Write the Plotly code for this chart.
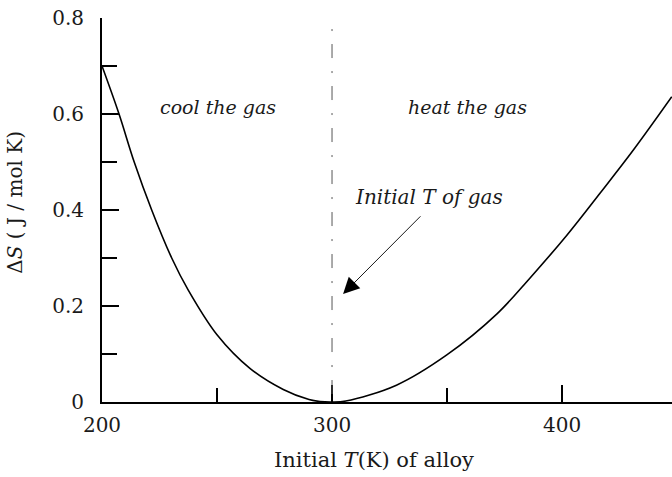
import plotly.graph_objects as go

# Entropy change vs. initial alloy temperature (gas initially at 300 K)
alloy_T = [200, 207.4, 214, 221.6, 230.3, 237.5, 250, 264.3, 278.8, 290, 294.8, 300,
           306, 328, 349.9, 371.6, 386, 402, 416.5, 431, 447.7]
delta_S = [0.700, 0.600, 0.500, 0.400, 0.300, 0.233, 0.140, 0.070, 0.026, 0.005, 0.001, 0.000,
           0.002, 0.035, 0.098, 0.183, 0.258, 0.347, 0.435, 0.525, 0.636]

gas_T = 300
x_ticks = [200, 300, 400]
y_ticks = [0, 0.2, 0.4, 0.6, 0.8]
y_tick_text = ["0", "0.2", "0.4", "0.6", "0.8"]

serif = "DejaVu Serif"
ink = "#1a1a1a"

fig = go.Figure()
fig.add_trace(go.Scatter(
    x=alloy_T, y=delta_S, mode="lines",
    line=dict(color="black", width=1.6, shape="spline", smoothing=1.0),
    hoverinfo="skip", showlegend=False,
))

# Vertical dash-dot marker at the gas temperature
fig.add_shape(type="line", xref="x", yref="y",
              x0=gas_T, x1=gas_T, y0=0.777, y1=0,
              line=dict(color="#555555", width=1, dash="2px,13px,14px,13px"))

fig.add_annotation(x=gas_T + 4.8, y=0.225, ax=339.1, ay=0.390,
                   xref="x", yref="y", axref="x", ayref="y",
                   showarrow=True, arrowhead=2, arrowsize=3.6, arrowwidth=0.9,
                   arrowcolor="black", text="")

italic = dict(family=serif, size=19, color=ink)
fig.add_annotation(x=250.3, y=0.614, xref="x", yref="y", showarrow=False,
                   text="<i>cool the gas</i>", font=italic)
fig.add_annotation(x=359, y=0.614, xref="x", yref="y", showarrow=False,
                   text="<i>heat the gas</i>", font=italic)
fig.add_annotation(x=342, y=0.427, xref="x", yref="y", showarrow=False,
                   text="<i>Initial T of gas</i>", font=dict(family=serif, size=20, color=ink))

fig.add_annotation(x=0.477, y=-0.151, xref="paper", yref="paper", showarrow=False,
                   xanchor="center", yanchor="middle",
                   text="Initial <i>T</i>(K) of alloy",
                   font=dict(family=serif, size=21, color=ink))
fig.add_annotation(x=-0.152, y=0.52, xref="paper", yref="paper", showarrow=False,
                   xanchor="center", yanchor="middle",
                   textangle=-90, text="Δ<i>S</i> ( J / mol K)",
                   font=dict(family=serif, size=20, color=ink))

axis_common = dict(showgrid=False, zeroline=False, showline=True, linecolor="black",
                   linewidth=2, ticks="inside", tickwidth=2, tickcolor="black",
                   ticklen=17, tickfont=dict(family=serif, size=20, color=ink))

fig.update_xaxes(range=[200, 447.8], tickvals=x_ticks,
                 minor=dict(dtick=50, tick0=200, ticklen=14, tickwidth=2,
                            tickcolor="black", ticks="inside"),
                 ticklabelstandoff=4, **axis_common)
fig.update_yaxes(range=[0, 0.8], tickvals=y_ticks, ticktext=y_tick_text,
                 minor=dict(dtick=0.1, tick0=0, ticklen=15, tickwidth=2,
                            tickcolor="black", ticks="inside"),
                 ticklabelstandoff=12, **axis_common)

fig.update_layout(width=672, height=477,
                  margin=dict(l=102, r=0, t=18, b=75),
                  plot_bgcolor="white", paper_bgcolor="white")

fig.write_html("out.html")
